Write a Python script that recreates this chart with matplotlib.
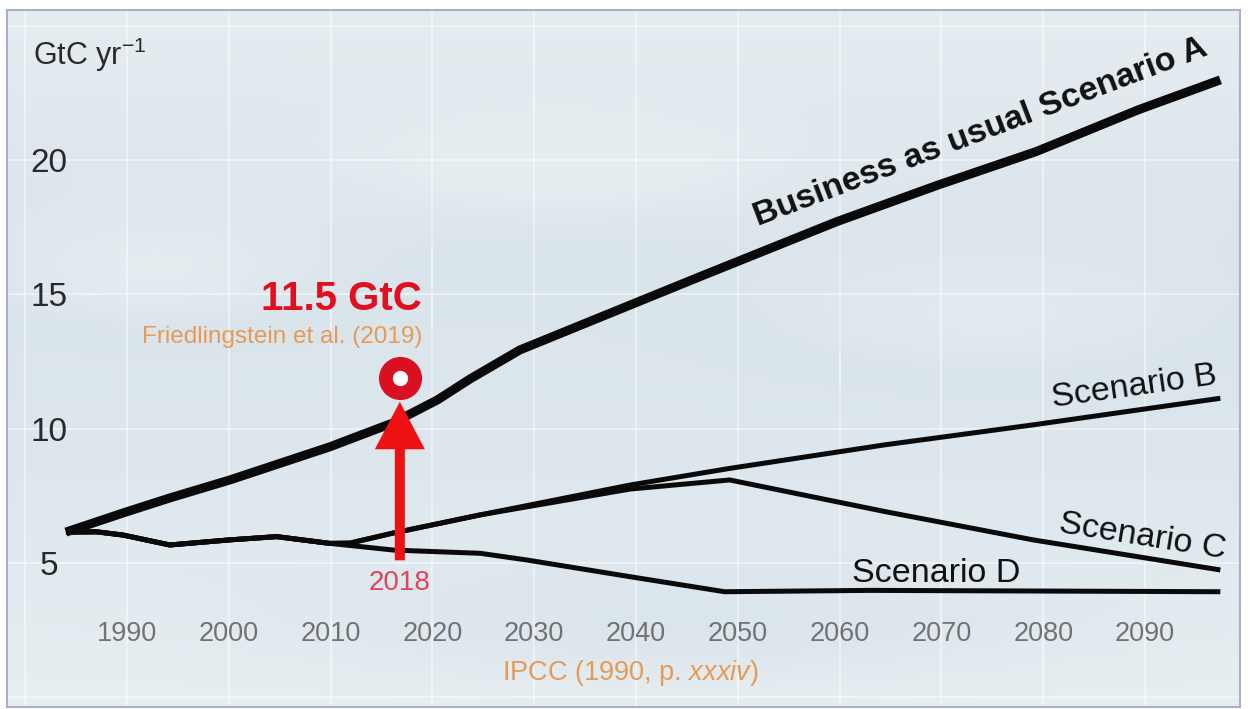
import matplotlib.pyplot as plt
import numpy as np
from matplotlib.colors import LinearSegmentedColormap

plt.rcParams['font.family'] = ['Liberation Sans Narrow', 'Liberation Sans', 'DejaVu Sans']
plt.rcParams['mathtext.fontset'] = 'custom'
plt.rcParams['mathtext.rm'] = 'Liberation Sans'
plt.rcParams['mathtext.it'] = 'Liberation Sans:italic'

# values (GtC per year)
years_a = [1984, 1989.6, 1994.2, 2000.1, 2009.9, 2016.1, 2020.5, 2023.7, 2028.6,
           2046.3, 2059.7, 2069.7, 2079.3, 2089.3, 2097.4]
emis_a = [6.15, 6.86, 7.42, 8.09, 9.32, 10.21, 11.07, 11.85, 12.93,
          15.66, 17.70, 19.07, 20.31, 21.86, 22.98]

years_b = [1984, 1987.0, 1989.6, 1994.2, 2000.1, 2004.7, 2009.9, 2011.9, 2016.1,
           2024.7, 2039.4, 2049.2, 2064.5, 2079.0, 2097.4]
emis_b = [6.15, 6.16, 6.04, 5.67, 5.86, 5.98, 5.73, 5.74, 6.11,
          6.79, 7.9, 8.52, 9.4, 10.14, 11.13]

years_c = [1984, 1987.0, 1989.6, 1994.2, 2000.1, 2004.7, 2009.9, 2011.9, 2016.1,
           2024.7, 2039.4, 2049.2, 2064.5, 2079.0, 2097.4]
emis_c = [6.15, 6.16, 6.04, 5.67, 5.86, 5.98, 5.73, 5.74, 6.11,
          6.79, 7.75, 8.09, 6.91, 5.86, 4.74]

years_d = [1984, 1987.0, 1989.6, 1994.2, 2000.1, 2004.7, 2009.9, 2016.2,
           2024.7, 2029.3, 2039.4, 2048.7, 2063.0, 2097.4]
emis_d = [6.15, 6.16, 6.04, 5.67, 5.86, 5.98, 5.73, 5.48,
          5.36, 5.11, 4.49, 3.93, 3.98, 3.93]

obs_year = 2016.8
obs_value = 11.87
arrow_base = 5.1
arrow_tip = 11.0

x_ticks = [1990, 2000, 2010, 2020, 2030, 2040, 2050, 2060, 2070, 2080, 2090]
x_labels = ['1990', '2000', '2010', '2020', '2030', '2040', '2050', '2060', '2070', '2080', '2090']
y_ticks = [5, 10, 15, 20]
y_labels = ['5', '10', '15', '20']

fig = plt.figure(figsize=(12.49, 7.09), dpi=100)
ax = fig.add_axes([7 / 1249, 2 / 709, 1233 / 1249, 697 / 709])

# pale sky background with a few soft light patches
sky = LinearSegmentedColormap.from_list('sky', ['#e6edf1', '#dae4eb', '#dde7ed', '#e8eff2'])
gx, gy = np.meshgrid(np.linspace(0, 1, 400), np.linspace(1, 0, 240))
bg = gy * 0 + (1 - gy)
for cx, cy, sx, sy in [(0.12, 0.62, 0.10, 0.06), (0.45, 0.78, 0.12, 0.05),
                       (0.80, 0.55, 0.14, 0.07), (0.55, 0.12, 0.20, 0.06)]:
    bg = bg - 0.35 * np.exp(-((gx - cx) ** 2 / (2 * sx ** 2) + (gy - cy) ** 2 / (2 * sy ** 2)))
ax.imshow(sky(np.clip(bg, 0, 1)), extent=[0, 1, 0, 1], transform=ax.transAxes,
          aspect='auto', zorder=0)

line_col = '#0a0a0a'
ax.plot(years_b, emis_b, color=line_col, lw=3.6, solid_capstyle='butt', zorder=3)
ax.plot(years_c, emis_c, color=line_col, lw=3.6, solid_capstyle='butt', zorder=3)
ax.plot(years_d, emis_d, color=line_col, lw=3.6, solid_capstyle='butt', zorder=3)
ax.plot(years_a, emis_a, color=line_col, lw=6.5, solid_capstyle='butt', zorder=3)

ax.set_xlim(1978.21, 2099.33)
ax.set_ylim(-0.36, 25.58)

ax.set_xticks(x_ticks)
ax.set_xticklabels(x_labels)
ax.set_xticks([1980], minor=True)
ax.set_yticks(y_ticks)
ax.set_yticklabels(y_labels)
ax.set_yticks([0, 25], minor=True)
ax.grid(which='both', color='white', lw=1.2, alpha=0.55, zorder=1)
ax.set_axisbelow(True)

ax.tick_params(axis='x', which='both', length=0, pad=-62, labelsize=19.5, labelcolor='#727272')
ax.tick_params(axis='y', which='both', length=0, pad=-30, labelsize=24, labelcolor='#2a2a2a')
for lab in ax.get_yticklabels():
    lab.set_horizontalalignment('center')

for s in ax.spines.values():
    s.set_color('#aab0c8')
    s.set_linewidth(1.5)

ax.text(1980.77, 23.53, r'GtC yr$^{-1}$', fontsize=22, color='#2a2a2a', ha='left', va='baseline')

# scenario labels
ax.text(2052.0, 17.54, 'Business as usual Scenario A', fontsize=24.5, fontweight='bold',
        rotation=20.8, rotation_mode='anchor', ha='left', va='baseline', color='#111111', zorder=4)
ax.text(2081.0, 10.81, 'Scenario B', fontsize=24.5, rotation=8, rotation_mode='anchor',
        ha='left', va='baseline', color='#111111', zorder=4)
ax.text(2081.5, 6.15, 'Scenario C', fontsize=24.5, rotation=-9, rotation_mode='anchor',
        ha='left', va='baseline', color='#111111', zorder=4)
ax.text(2061.2, 4.29, 'Scenario D', fontsize=24.5, ha='left', va='baseline', color='#111111', zorder=4)

# observation marker and arrow
ax.annotate('', xy=(obs_year, arrow_tip), xytext=(obs_year, arrow_base),
            arrowprops=dict(arrowstyle='simple,head_length=0.95,head_width=1.0,tail_width=0.2',
                            color='#ee1111', mutation_scale=36, shrinkA=0, shrinkB=0, lw=0),
            zorder=5)
ax.plot(obs_year, obs_value, 'o', ms=30, color='#d81020', mec='#d81020', zorder=6)
ax.plot(obs_year, obs_value, 'o', ms=10, color='white', mec='white', zorder=7)

ax.text(2019.0, 14.42, '11.5 GtC', fontsize=29, fontweight='bold', color='#e01020',
        ha='right', va='baseline', zorder=5)
ax.text(2019.0, 13.19, 'Friedlingstein et al. (2019)', fontsize=17.5, color='#e89a55',
        ha='right', va='baseline', zorder=5)
ax.text(obs_year, 4.0, '2018', fontsize=20, color='#e0455a', ha='center', va='baseline', zorder=5)
ax.text(2039.4, 0.65, r'IPCC (1990, p. $\it{xxxiv}$)', fontsize=19.5, color='#e89a55',
        ha='center', va='baseline', zorder=5)

fig.savefig('out.png', dpi=100)
